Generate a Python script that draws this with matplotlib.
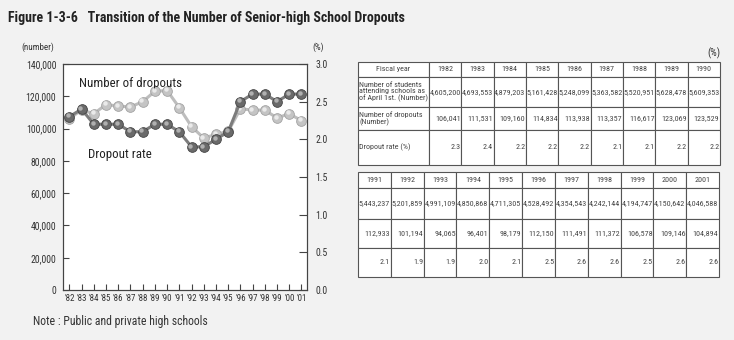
import matplotlib
matplotlib.use('Agg')
import matplotlib.pyplot as plt
import matplotlib.transforms as mtransforms
from matplotlib.table import Table
import numpy as np

plt.rcParams['font.family'] = ['Roboto Condensed', 'DejaVu Sans']

years = [1982, 1983, 1984, 1985, 1986, 1987, 1988, 1989, 1990, 1991,
         1992, 1993, 1994, 1995, 1996, 1997, 1998, 1999, 2000, 2001]
year_labels = ["'82", "'83", "'84", "'85", "'86", "'87", "'88", "'89", "'90", "'91",
               "'92", "'93", "'94", "'95", "'96", "'97", "'98", "'99", "'00", "'01"]
students = [4605200, 4693553, 4879203, 5161428, 5248099, 5363582, 5520951, 5628478, 5609353,
            5443237, 5201859, 4991109, 4850868, 4711305, 4528492, 4354543, 4242144, 4194747,
            4150642, 4046588]
dropouts = [106041, 111531, 109160, 114834, 113938, 113357, 116617, 123069, 123529,
            112933, 101194, 94065, 96401, 98179, 112150, 111491, 111372, 106578, 109146, 104894]
rate = [2.3, 2.4, 2.2, 2.2, 2.2, 2.1, 2.1, 2.2, 2.2,
        2.1, 1.9, 1.9, 2.0, 2.1, 2.5, 2.6, 2.6, 2.5, 2.6, 2.6]
row_names = ['Fiscal year',
             'Number of students\nattending schools as\nof April 1st. (Number)',
             'Number of dropouts\n(Number)',
             'Dropout rate (%)']

bg = '#f2f2f2'
txt = '#333333'
fig = plt.figure(figsize=(7.34, 3.4), dpi=100, facecolor=bg)

fig.text(0.011, 0.947, 'Figure 1-3-6   Transition of the Number of Senior-high School Dropouts',
         fontsize=10, fontweight='bold', color='#222222', va='center')

# ---- line chart ----
ax = fig.add_axes([0.0862, 0.147, 0.332, 0.665])
ax.set_facecolor('white')
x = np.arange(len(years))
ax.set_xlim(-0.5, 19.45)
ax.set_ylim(0, 140000)
ax.set_yticks(np.arange(0, 140001, 20000))
ax.set_yticklabels([f'{v:,}' for v in range(0, 140001, 20000)])
ax.set_xticks(x)
ax.set_xticklabels(year_labels)
ax.tick_params(direction='in', length=4, width=0.8, color='#444444', labelcolor=txt)
ax.tick_params(axis='y', labelsize=7, pad=5)
ax.tick_params(axis='x', labelsize=6.5, pad=3)
for s in ax.spines.values():
    s.set_color('#444444')
    s.set_linewidth(0.8)

ax2 = ax.twinx()
ax2.set_ylim(0, 3.0)
ax2.set_yticks(np.arange(0, 3.01, 0.5))
ax2.set_yticklabels([f'{v:.1f}' for v in np.arange(0, 3.01, 0.5)])
ax2.tick_params(direction='in', length=6, width=0.8, color='#444444', labelcolor=txt,
                labelsize=7, pad=6)
for s in ax2.spines.values():
    s.set_color('#444444')
    s.set_linewidth(0.8)


def balls(a, xs, ys, line_c, face, edge, hi):
    a.plot(xs, ys, color=line_c, lw=2.2, zorder=2)
    a.plot(xs, ys, ls='none', marker='o', ms=7, mfc=face, mec=edge, mew=0.6, zorder=3)
    shift = mtransforms.offset_copy(a.transData, fig=fig, x=-0.9, y=0.9, units='points')
    a.plot(xs, ys, ls='none', marker='o', ms=3.2, mfc=hi, mec='none', alpha=0.9,
           transform=shift, zorder=4)


balls(ax, x, dropouts, '#bdbdbd', '#c4c4c4', '#a2a2a2', '#efefef')
balls(ax2, x, rate, '#7c7c7c', '#6a6a6a', '#444444', '#b8b8b8')

ax.text(0.065, 0.9, 'Number of dropouts', transform=ax.transAxes, fontsize=9.3, color='#222222')
ax.text(0.1, 0.585, 'Dropout rate', transform=ax.transAxes, fontsize=9.3, color='#222222')
fig.text(0.052, 0.852, '(number)', fontsize=6.5, color=txt, ha='center')
fig.text(0.434, 0.852, '(%)', fontsize=6.5, color=txt, ha='center')
fig.text(0.045, 0.045, 'Note : Public and private high schools', fontsize=8.5, color=txt)

# ---- tables ----
fig.text(0.981, 0.835, '(%)', fontsize=7.5, color=txt, ha='right')


def make_table(rect, cols, col_w, row_h, first_col):
    tax = fig.add_axes(rect)
    tax.set_axis_off()
    tb = Table(tax, bbox=[0, 0, 1, 1])
    ncol = len(cols) + (1 if first_col else 0)
    for r in range(4):
        for c in range(ncol):
            if first_col and c == 0:
                text, loc = row_names[r], ('center' if r == 0 else 'left')
            else:
                i = cols[c - (1 if first_col else 0)]
                if r == 0:
                    text, loc = str(years[i]), 'center'
                elif r == 1:
                    text, loc = f'{students[i]:,}', ('right' if first_col else 'center')
                elif r == 2:
                    text, loc = f'{dropouts[i]:,}', 'right'
                else:
                    text, loc = f'{rate[i]:.1f}', 'right'
            cell = tb.add_cell(r, c, col_w[c], row_h[r], text=text, loc=loc,
                               facecolor='white', edgecolor='#555555')
            cell.set_linewidth(0.8)
            cell.PAD = 0.02
            cell.get_text().set_color('#444444')
            cell.get_text().set_linespacing(0.95)
    tb.auto_set_font_size(False)
    tb.set_fontsize(5.8)
    tax.add_table(tb)
    return tb


w1 = [71] + [32.4] * 9
make_table([0.4877, 0.5147, 0.4932, 0.303], list(range(0, 9)), w1, [15, 30, 23, 35], True)
w2 = [32.8] * 11
make_table([0.4877, 0.1853, 0.4918, 0.3088], list(range(9, 20)), w2, [16, 31, 29, 29], False)

fig.savefig('out.png', dpi=100, facecolor=bg)
